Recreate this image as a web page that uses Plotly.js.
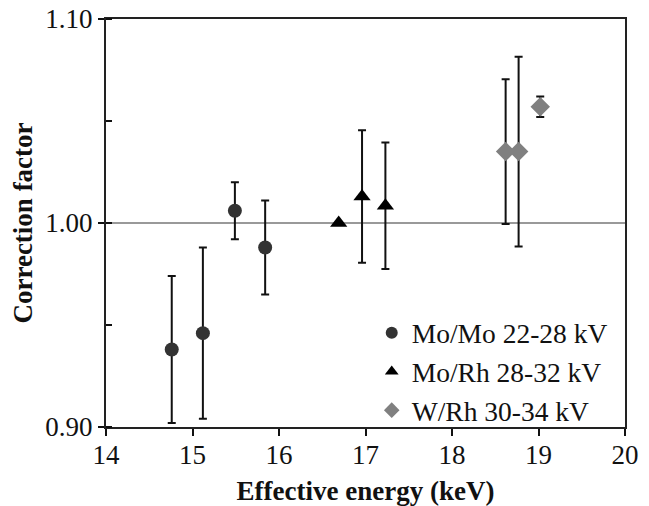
<!DOCTYPE html>
<html>
<head>
<meta charset="utf-8">
<script src="https://cdn.plot.ly/plotly-3.0.1.min.js"></script>
<style>html,body{margin:0;padding:0;background:#fff;}#chart{width:649px;height:506px;}</style>
</head>
<body>
<div id="chart"></div>
<script>
// Mo/Mo 22-28 kV
var moMoX = [14.76, 15.12, 15.49, 15.84];
var moMoY = [0.938, 0.946, 1.006, 0.988];
var moMoErr = [0.036, 0.042, 0.014, 0.023];
// Mo/Rh 28-32 kV
var moRhX = [16.69, 16.96, 17.23];
var moRhY = [1.000, 1.013, 1.0085];
var moRhErr = [0, 0.0325, 0.031];
// W/Rh 30-34 kV
var wRhX = [18.62, 18.77, 19.02];
var wRhY = [1.035, 1.035, 1.057];
var wRhErr = [0.0355, 0.0465, 0.005];

var names = ['Mo/Mo 22-28 kV', 'Mo/Rh 28-32 kV', 'W/Rh 30-34 kV'];
var xTicks = [14, 15, 16, 17, 18, 19, 20];
var yTicks = [0.90, 1.00, 1.10];
var yTickText = ['0.90', '1.00', '1.10'];

var serif = 'Liberation Serif, Times New Roman, serif';
function err(a) {
  return {type: 'data', array: a, visible: true, color: '#111', thickness: 2, width: 4};
}
var traces = [
  {x: moMoX, y: moMoY, error_y: err(moMoErr), mode: 'markers', type: 'scatter', name: names[0],
   marker: {symbol: 'circle', size: 14, color: '#333333'}},
  {x: moRhX, y: moRhY, error_y: err(moRhErr), mode: 'markers', type: 'scatter', name: names[1],
   marker: {symbol: 'triangle-up', size: 15, color: '#000000'}},
  {x: wRhX, y: wRhY, error_y: err(wRhErr), mode: 'markers', type: 'scatter', name: names[2],
   marker: {symbol: 'diamond', size: 15, color: '#808080'}}
];

var layout = {
  width: 649, height: 506,
  margin: {l: 106, r: 24, t: 19, b: 79},
  paper_bgcolor: '#fff', plot_bgcolor: '#fff',
  font: {family: serif, size: 27, color: '#111'},
  showlegend: true,
  legend: {x: 0.512, y: 0.291, xanchor: 'left', yanchor: 'top', bgcolor: 'rgba(0,0,0,0)',
           font: {family: serif, size: 27.5, color: '#111'}, itemsizing: 'constant'},
  xaxis: {range: [14, 20], tickvals: xTicks, ticks: 'outside', ticklen: 7, tickwidth: 2,
          tickcolor: '#111', showline: true, linewidth: 2, linecolor: '#222', mirror: true,
          showgrid: false, zeroline: false, tickfont: {family: serif, size: 27}, ticklabelstandoff: -4,
          title: {text: '<b>Effective energy (keV)</b>', font: {family: serif, size: 27}, standoff: 15}},
  yaxis: {range: [0.90, 1.10], tickvals: yTicks, ticktext: yTickText, ticks: 'outside', ticklen: 6,
          tickwidth: 2, tickcolor: '#111', showline: true, linewidth: 2, linecolor: '#222', mirror: true,
          showgrid: false, zeroline: false, tickfont: {family: serif, size: 27},
          minor: {ticks: 'inside', dtick: 0.05, ticklen: 6, tickwidth: 2, tickcolor: '#111', showgrid: false},
          title: {text: '<b>Correction factor</b>', font: {family: serif, size: 27}, standoff: 5}},
  shapes: [{type: 'line', xref: 'paper', yref: 'y', x0: 0, x1: 1, y0: 1.0, y1: 1.0,
            line: {color: '#777', width: 1.5}, layer: 'below'}]
};

Plotly.newPlot('chart', traces, layout, {displayModeBar: false, staticPlot: true});
</script>
</body>
</html>
